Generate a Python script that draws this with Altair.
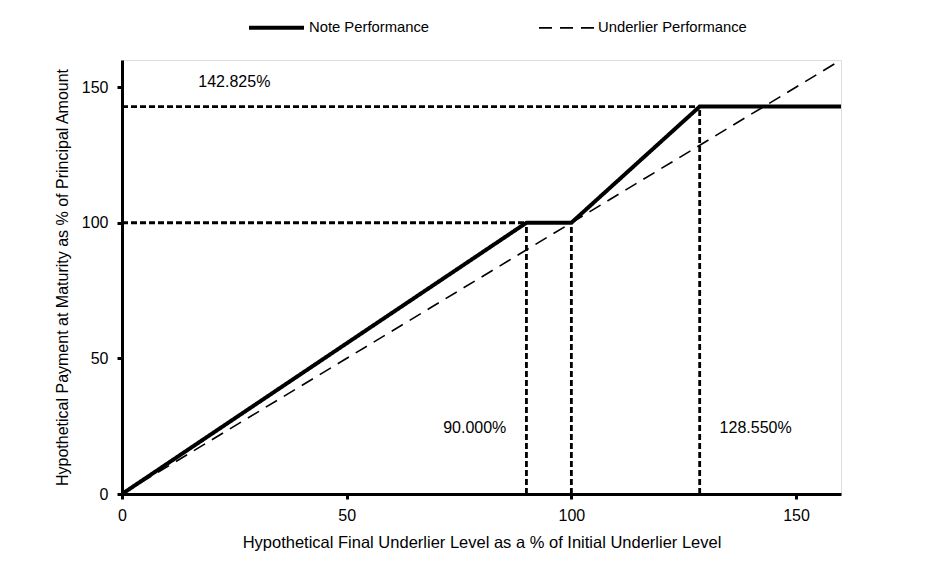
import altair as alt
import pandas as pd

# Data
note_x = [0, 90, 100, 128.55, 160]
note_y = [0, 100, 100, 142.825, 142.825]
under_x = [0, 160]
under_y = [0, 160]

ref_x = [0, 0, 90, 100, 128.55]
ref_y = [100, 142.825, 0, 0, 0]
ref_x2 = [90, 128.55, 90, 100, 128.55]
ref_y2 = [100, 142.825, 100, 100, 142.825]

ann_text = ["142.825%", "90.000%", "128.550%"]
ann_x = [25, 78.5, 141]
ann_y = [152, 24.5, 24.5]

FONT = "Liberation Sans"

lines = pd.DataFrame(
    [{"x": a, "y": b, "series": "Note Performance", "o": i} for i, (a, b) in enumerate(zip(note_x, note_y))]
    + [{"x": a, "y": b, "series": "Underlier Performance", "o": i} for i, (a, b) in enumerate(zip(under_x, under_y))]
)
refs = pd.DataFrame({"x": ref_x, "y": ref_y, "x2": ref_x2, "y2": ref_y2})
anns = pd.DataFrame({"text": ann_text, "x": ann_x, "y": ann_y})

xscale = alt.Scale(domain=[0, 160], nice=False)
yscale = alt.Scale(domain=[0, 160], nice=False)

xaxis = alt.Axis(
    values=[0, 50, 100, 150], title="Hypothetical Final Underlier Level as a % of Initial Underlier Level",
    grid=False, domainColor="black", domainWidth=3, tickColor="black", tickWidth=3, tickSize=5,
    labelFont=FONT, labelFontSize=16, labelColor="black", labelPadding=8, labelFlush=False,
    titleFont=FONT, titleFontSize=16.5, titleFontWeight="normal", titleColor="black", titlePadding=11,
)
yaxis = alt.Axis(
    values=[0, 50, 100, 150], title="Hypothetical Payment at Maturity as % of Principal Amount",
    grid=False, domainColor="black", domainWidth=3, tickColor="black", tickWidth=3, tickSize=5,
    labelFont=FONT, labelFontSize=16, labelColor="black", labelPadding=9, labelFlush=False,
    titleFont=FONT, titleFontSize=16, titleFontWeight="normal", titleColor="black", titlePadding=11,
)

leg = alt.Legend(
    title=None, orient="none", direction="horizontal", legendX=125, legendY=-62,
    symbolType="stroke", symbolSize=3025, symbolStrokeColor="black",
    labelFont=FONT, labelFontSize=14.8, labelColor="black", labelOffset=3,
    columnPadding=105,
)

ref_layer = alt.Chart(refs).mark_rule(color="black", strokeWidth=2.8, strokeDash=[6, 3]).encode(
    x=alt.X("x:Q", scale=xscale, axis=xaxis),
    y=alt.Y("y:Q", scale=yscale, axis=yaxis),
    x2="x2:Q",
    y2="y2:Q",
)

line_layer = alt.Chart(lines).mark_line(color="black").encode(
    x=alt.X("x:Q", scale=xscale),
    y=alt.Y("y:Q", scale=yscale),
    order="o:Q",
    detail="series:N",
    strokeDash=alt.StrokeDash(
        "series:N",
        scale=alt.Scale(domain=["Note Performance", "Underlier Performance"], range=[[1, 0], [13, 8]]),
        legend=leg,
    ),
    strokeWidth=alt.StrokeWidth(
        "series:N",
        scale=alt.Scale(domain=["Note Performance", "Underlier Performance"], range=[4, 1.6]),
        legend=leg,
    ),
)

text_layer = alt.Chart(anns).mark_text(font=FONT, fontSize=16, color="black").encode(
    x=alt.X("x:Q", scale=xscale),
    y=alt.Y("y:Q", scale=yscale),
    text="text:N",
)

chart = alt.layer(ref_layer, line_layer, text_layer).properties(
    width=719,
    height=434,
    autosize=alt.AutoSizeParams(type="none"),
    padding={"left": 114, "top": 52, "right": 100, "bottom": 60},
).configure_view(stroke=None).configure(background="white")

chart.save("out.html", embed_options={"renderer": "svg", "actions": False})
